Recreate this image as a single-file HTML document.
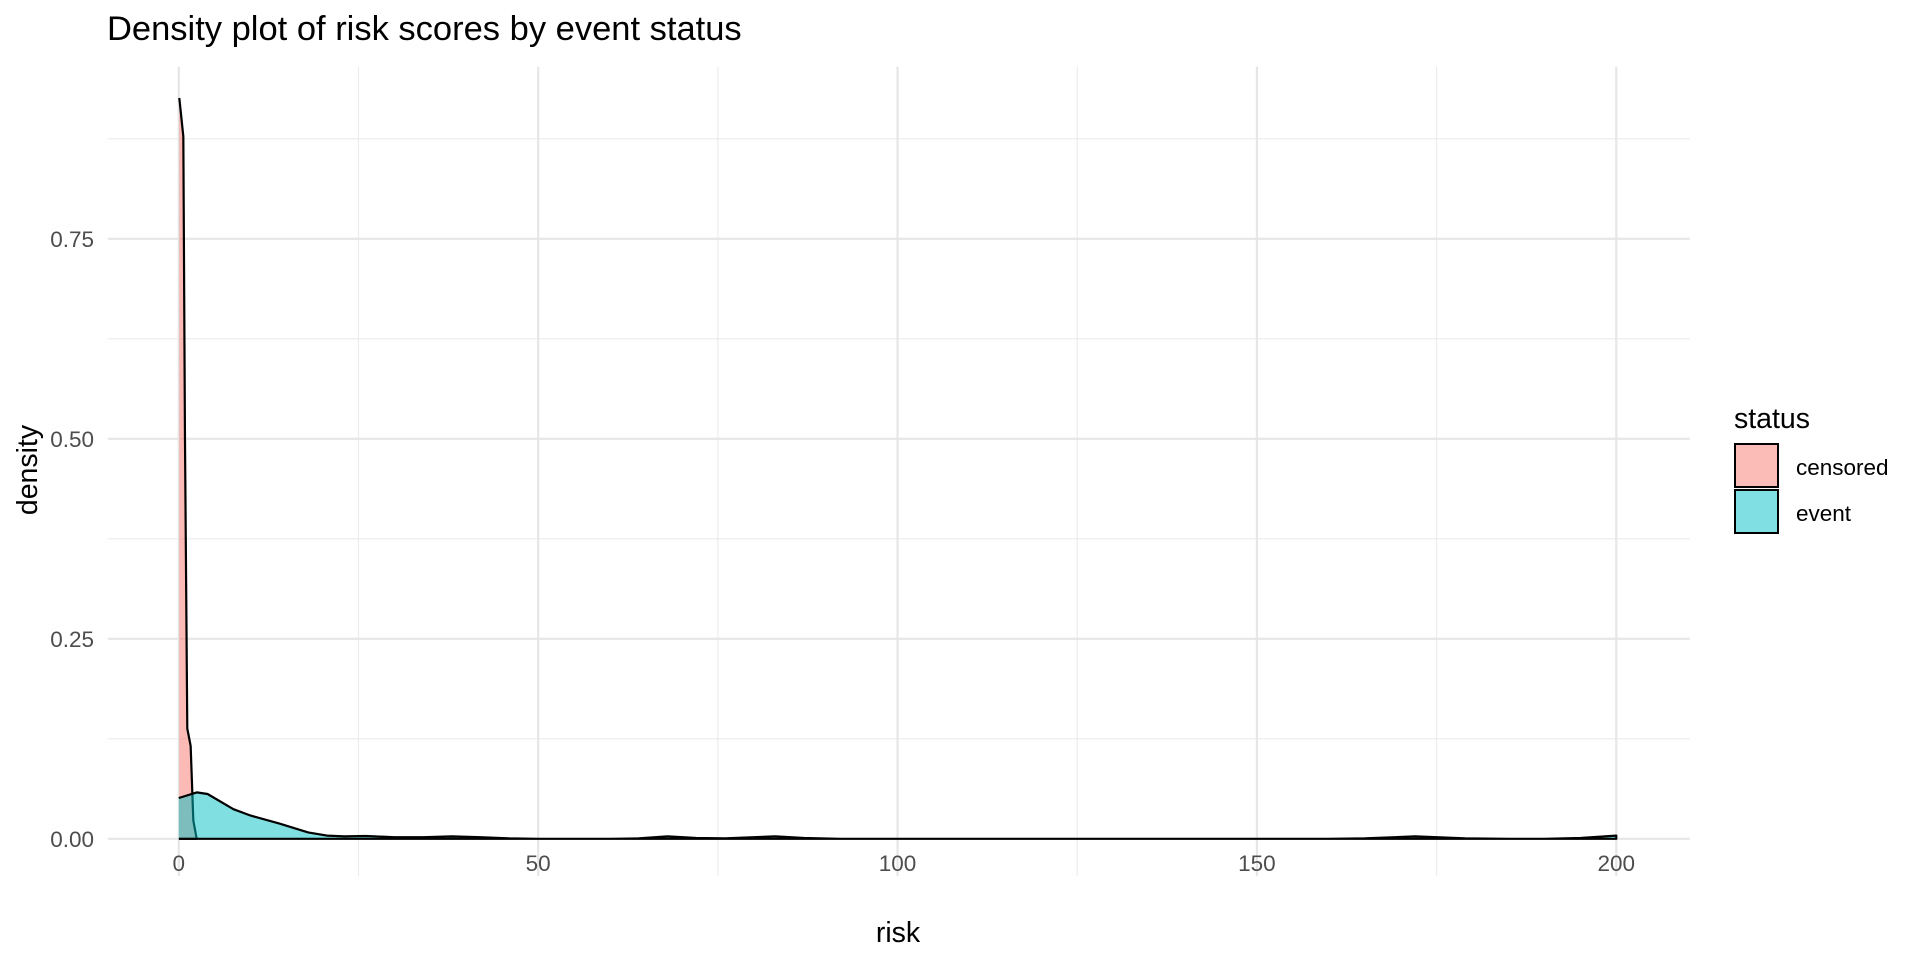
<!DOCTYPE html>
<html><head><meta charset="utf-8"><style>
body{margin:0;background:#fff;}
svg{display:block;font-family:"Liberation Sans",Arial,sans-serif;}
</style></head><body>
<svg id="chart" width="1920" height="960" viewBox="0 0 1920 960">
<text x="107" y="40" font-size="34.5" fill="#000">Density plot of risk scores by event status</text>
<g id="grid"></g>
<g id="marks"></g>
<g id="axes"></g>
<text x="898" y="942" font-size="28.5" text-anchor="middle" fill="#000">risk</text>
<text transform="translate(37,470) rotate(-90)" font-size="28.5" text-anchor="middle" fill="#000">density</text>
<g>
<text x="1734" y="428" font-size="28.5" fill="#000">status</text>
<rect x="1735" y="444" width="43" height="43" fill="#FBBBB6" stroke="#000" stroke-width="2"/>
<text x="1796" y="475" font-size="22.5" fill="#000">censored</text>
<rect x="1735" y="490" width="43" height="43" fill="#80DFE2" stroke="#000" stroke-width="2"/>
<text x="1796" y="521" font-size="22.5" fill="#000">event</text>
</g>
</svg>
<script>
const xTicks=[0,50,100,150,200];
const xMinor=[25,75,125,175];
const yTicks=[0,0.25,0.5,0.75];
const yTickLabels=["0.00","0.25","0.50","0.75"];
const yMinor=[0.125,0.375,0.625,0.875];
const censoredX=[0.07,0.63,0.86,1.18,1.65,2.02,2.49];
const censoredY=[0.926,0.878,0.50,0.138,0.116,0.023,0];
const eventX=[0,2.5,4,7.6,10,14,18,20.6,23,26,30,34,38,42,46,50,60,64,68,72,76,80,83,87,92,100,120,160,165,172,179,185,190,195,200];
const eventY=[0.051,0.058,0.056,0.037,0.029,0.019,0.008,0.004,0.003,0.0035,0.002,0.002,0.003,0.002,0.0005,0,0,0.0005,0.003,0.001,0.0005,0.002,0.003,0.001,0,0,0,0,0.0005,0.003,0.0005,0,0,0.001,0.004];
const NS="http://www.w3.org/2000/svg";
const X0=107.8,X1=1689.8,Y0=66.7,Y1=876;
const xs=v=>178.8+v*(1616.3-178.8)/200;
const ys=v=>838.8-v*800;
function mk(tag,attrs,parent){const e=document.createElementNS(NS,tag);for(const k in attrs)e.setAttribute(k,attrs[k]);parent.appendChild(e);return e;}
const grid=document.getElementById('grid'),marks=document.getElementById('marks'),axes=document.getElementById('axes');
yMinor.forEach(v=>{const l=mk('line',{x1:X0,x2:X1,y1:ys(v),y2:ys(v),stroke:'#EBEBEB','stroke-width':1.1},grid);

});
xMinor.forEach(v=>{const l=mk('line',{x1:xs(v),x2:xs(v),y1:Y0,y2:Y1,stroke:'#EBEBEB','stroke-width':1.1},grid);

});
yTicks.forEach((v,i)=>{const l=mk('line',{x1:X0,x2:X1,y1:ys(v),y2:ys(v),stroke:'#E6E6E6','stroke-width':2.2},grid);


const t=mk('text',{x:94,y:ys(v)+8,'font-size':22.5,'text-anchor':'end',fill:'#4D4D4D'},axes);t.textContent=yTickLabels[i];

});
xTicks.forEach(v=>{const l=mk('line',{x1:xs(v),x2:xs(v),y1:Y0,y2:Y1,stroke:'#E6E6E6','stroke-width':2.2},grid);


const t=mk('text',{x:xs(v),y:871,'font-size':22.5,'text-anchor':'middle',fill:'#4D4D4D'},axes);t.textContent=String(v);

});
function area(xa,ya,fill,name){
 let d='M'+xs(xa[0])+','+ys(0);
 xa.forEach((x,i)=>{d+=' L'+xs(x)+','+ys(ya[i]);});
 d+=' L'+xs(xa[xa.length-1])+','+ys(0)+' Z';
 const p=mk('path',{d:d,fill:fill,'fill-opacity':0.5,stroke:'none'},marks);
 
 
 let d2='';xa.forEach((x,i)=>{d2+=(i?' L':'M')+xs(x)+','+ys(ya[i]);});
 d2+=' L'+xs(xa[xa.length-1])+','+ys(0)+' L'+xs(xa[0])+','+ys(0);
 const l=mk('path',{d:d2,fill:'none',stroke:'#000','stroke-width':2.2,'stroke-linejoin':'round'},marks);
 
 
}
area(censoredX,censoredY,'#F8766D','censored-density');
area(eventX,eventY,'#00BFC4','event-density');
</script>
</body></html>
